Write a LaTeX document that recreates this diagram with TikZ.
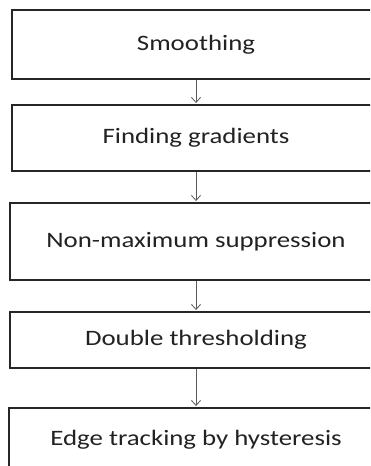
\documentclass[tikz,border=0pt]{standalone}
\usepackage{fontspec}
\usetikzlibrary{arrows.meta}
\newfontfamily\boxfont{Carlito}[FakeStretch=1.22]
\definecolor{boxline}{HTML}{262626}
\definecolor{arrowline}{HTML}{5A5A5A}
\definecolor{boxtext}{HTML}{222222}
\tikzset{
  stepbox/.style={draw=boxline, line width=1.9pt, rectangle, fill=white,
    minimum width=370pt, text=boxtext,
    font=\boxfont\fontsize{22}{26}\selectfont},
  flowarrow/.style={draw=arrowline, line width=0.8pt,
    -{Straight Barb[length=5pt,width=9pt]}, shorten >=1pt}
}
\begin{document}
\begin{tikzpicture}[x=1pt,y=-1pt]
  \useasboundingbox (0,0) rectangle (370,466);
  \clip (0,0) rectangle (370,466);
  \fill[white] (0,0) rectangle (370,466);
  % processing stages, top to bottom
  \node[stepbox, minimum width=368pt, minimum height=69pt] (s1) at (196,44.5) {Smoothing};
  \node[stepbox, minimum width=368pt, minimum height=66pt] (s2) at (196,138) {Finding gradients};
  \node[stepbox, minimum width=372pt, minimum height=77pt] (s3) at (196,241.5) {Non-maximum suppression};
  \node[stepbox, minimum width=372pt, minimum height=56pt] (s4) at (196,340) {Double thresholding};
  \node[stepbox, minimum width=374pt, minimum height=64pt] (s5) at (196,440) {Edge tracking by hysteresis};
  % connectors
  \draw[flowarrow] (s1.south) -- (s2.north);
  \draw[flowarrow] (s2.south) -- (s3.north);
  \draw[flowarrow] (s3.south) -- (s4.north);
  \draw[flowarrow] (s4.south) -- (s5.north);
\end{tikzpicture}
\end{document}
